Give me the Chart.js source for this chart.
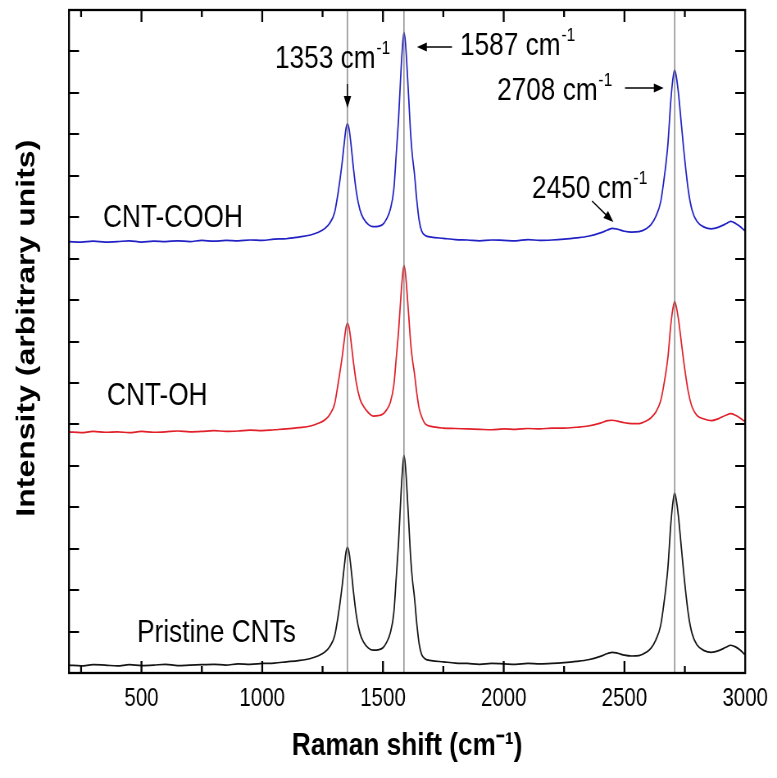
<!DOCTYPE html>
<html>
<head>
<meta charset="utf-8">
<script src="https://cdn.jsdelivr.net/npm/chart.js@4.4.1/dist/chart.umd.min.js"></script>
<style>
  html, body { margin: 0; padding: 0; background: #fff; }
  /* the figure uses narrow lettering: draw wider, show at 777px */
  #ramanChart { display: block; width: 777px !important; height: 778px !important; }
</style>
</head>
<body>
<canvas id="ramanChart" width="948" height="778" style="width:777px;height:778px"></canvas>
<script>
// Raman shift positions (cm-1) shared by the three spectra
var shifts = [200, 250, 300, 350, 400, 450, 500, 550, 600, 650, 700, 750, 800, 850, 900, 950, 1000, 1050, 1100, 1150, 1200,
    1230, 1260, 1280, 1300, 1315, 1330, 1340, 1347, 1353, 1360, 1368, 1378, 1390, 1405, 1420, 1440, 1460, 1480, 1500,
    1515, 1530, 1545, 1555, 1565, 1575, 1582, 1587, 1593, 1600, 1608, 1615, 1622, 1630, 1640, 1650, 1660, 1675, 1700,
    1750, 1800, 1850, 1900, 1950, 2000, 2050, 2100, 2150, 2200, 2250, 2300, 2350, 2400,
    2430, 2450, 2470, 2500, 2530, 2560, 2590, 2610, 2630, 2650, 2665, 2680, 2692, 2702, 2708, 2714, 2724, 2736, 2750,
    2765, 2780, 2800, 2830, 2860, 2890, 2920, 2940, 2960, 2980, 3000];

// stacked intensities (arbitrary units)
var pristine = [0.19, 0.17, 0.20, 0.19, 0.17, 0.20, 0.18, 0.19, 0.21, 0.18, 0.19, 0.20, 0.21, 0.19, 0.22, 0.21, 0.23, 0.24, 0.27, 0.30, 0.35,
    0.41, 0.51, 0.64, 0.90, 1.40, 2.05, 2.58, 2.92, 3.03, 2.90, 2.52, 1.95, 1.38, 0.95, 0.74, 0.60, 0.55, 0.56, 0.61,
    0.74, 0.96, 1.45, 2.30, 3.20, 4.35, 5.00, 5.25, 5.00, 4.35, 3.50, 2.75, 2.25, 1.85, 1.20, 0.70, 0.45, 0.34, 0.30,
    0.27, 0.24, 0.23, 0.21, 0.23, 0.22, 0.21, 0.23, 0.22, 0.23, 0.25, 0.28, 0.32, 0.40,
    0.47, 0.50, 0.48, 0.43, 0.41, 0.42, 0.50, 0.60, 0.80, 1.15, 1.75, 2.55, 3.60, 4.18, 4.34, 4.20, 3.75, 3.00, 2.15,
    1.40, 0.95, 0.68, 0.54, 0.50, 0.54, 0.62, 0.67, 0.63, 0.55, 0.43];

var cntOH = [5.82, 5.80, 5.83, 5.81, 5.82, 5.80, 5.83, 5.81, 5.82, 5.84, 5.82, 5.83, 5.85, 5.83, 5.84, 5.86, 5.85, 5.87, 5.89, 5.92, 5.96,
    6.02, 6.11, 6.24, 6.50, 7.01, 7.58, 8.04, 8.34, 8.44, 8.33, 7.99, 7.49, 6.99, 6.61, 6.43, 6.28, 6.20, 6.21, 6.25,
    6.35, 6.52, 6.95, 7.60, 8.28, 9.15, 9.65, 9.84, 9.65, 9.15, 8.51, 7.94, 7.56, 7.25, 6.76, 6.38, 6.19, 6.01, 5.95,
    5.91, 5.90, 5.89, 5.88, 5.87, 5.89, 5.88, 5.90, 5.89, 5.91, 5.91, 5.93, 5.96, 6.03,
    6.09, 6.10, 6.08, 6.04, 6.02, 6.02, 6.08, 6.16, 6.30, 6.57, 7.02, 7.62, 8.41, 8.84, 8.96, 8.86, 8.52, 7.96, 7.32,
    6.76, 6.42, 6.22, 6.13, 6.09, 6.14, 6.22, 6.26, 6.22, 6.15, 6.06];

var cntCOOH = [10.41, 10.40, 10.42, 10.40, 10.41, 10.43, 10.40, 10.42, 10.41, 10.43, 10.41, 10.44, 10.42, 10.44, 10.43, 10.45, 10.44, 10.47, 10.48, 10.52, 10.57,
    10.63, 10.73, 10.86, 11.12, 11.62, 12.27, 12.80, 13.14, 13.25, 13.12, 12.74, 12.17, 11.60, 11.17, 10.96, 10.82, 10.77, 10.78, 10.83,
    10.96, 11.18, 11.67, 12.52, 13.42, 14.57, 15.22, 15.46, 15.22, 14.57, 13.72, 12.97, 12.47, 12.07, 11.42, 10.92, 10.67, 10.56, 10.52,
    10.49, 10.46, 10.45, 10.43, 10.45, 10.44, 10.43, 10.46, 10.44, 10.45, 10.47, 10.50, 10.54, 10.62,
    10.69, 10.73, 10.71, 10.66, 10.64, 10.65, 10.72, 10.82, 11.02, 11.37, 11.97, 12.77, 13.82, 14.40, 14.55, 14.42, 13.97, 13.22, 12.37,
    11.62, 11.17, 10.90, 10.76, 10.72, 10.76, 10.84, 10.90, 10.85, 10.77, 10.66];

var peakShifts = [1353, 1587, 2708];
var xLabelTicks = [500, 1000, 1500, 2000, 2500, 3000];
var xMarkTicks = [250, 500, 750, 1000, 1250, 1500, 1750, 2000, 2250, 2500, 2750];
var yMarkTicks = [1, 2, 3, 4, 5, 6, 7, 8, 9, 10, 11, 12, 13, 14, 15];

[pristine, cntOH, cntCOOH].forEach(function (s) {
    if (s.length !== shifts.length) throw new Error('length mismatch ' + s.length + ' vs ' + shifts.length);
});

var SX = 948 / 777;   // canvas pixels per screen pixel, horizontally
var FONT = "'Liberation Sans', Arial, sans-serif";

function toPoints(values) {
    return shifts.map(function (x, i) { return { x: x, y: values[i] }; });
}

function spectrum(label, values, color) {
    return {
        label: label,
        data: toPoints(values),
        borderColor: color,
        borderWidth: 1.7,
        pointRadius: 0,
        cubicInterpolationMode: 'monotone',
        fill: false,
        order: 2
    };
}

var datasets = [
    spectrum('Pristine CNTs', pristine, '#151515'),
    spectrum('CNT-OH', cntOH, '#e0202a'),
    spectrum('CNT-COOH', cntCOOH, '#2121c4')
];
peakShifts.forEach(function (p) {
    datasets.push({
        label: p + ' cm-1',
        data: [{ x: p, y: 0 }, { x: p, y: 16 }],
        borderColor: '#7a7a7a',
        borderWidth: 1.3,
        pointRadius: 0,
        order: 1
    });
});

function withSup(ctx, text, x, y) {
    ctx.font = '32px ' + FONT;
    ctx.fillText(text, x, y);
    var w = ctx.measureText(text).width;
    ctx.font = '19px ' + FONT;
    ctx.fillText('-1', x + w + 1, y - 14);
}

function arrow(ctx, x1, y1, x2, y2) {
    var ang = Math.atan2(y2 - y1, x2 - x1);
    var c = Math.cos(ang), s = Math.sin(ang);
    ctx.beginPath();
    ctx.lineWidth = 1.4;
    ctx.moveTo(x1, y1);
    ctx.lineTo(x2 - 9 * c, y2 - 9 * s);
    ctx.stroke();
    ctx.beginPath();
    ctx.moveTo(x2, y2);
    ctx.lineTo(x2 - 12 * c + 4.5 * s, y2 - 12 * s - 4.5 * c);
    ctx.lineTo(x2 - 12 * c - 4.5 * s, y2 - 12 * s + 4.5 * c);
    ctx.closePath();
    ctx.fill();
}

var framePlugin = {
    id: 'frame',
    afterDatasetsDraw: function (chart) {
        var ctx = chart.ctx, a = chart.chartArea;
        var xs = chart.scales.x, ys = chart.scales.y;
        ctx.save();
        ctx.strokeStyle = '#000';
        ctx.fillStyle = '#000';
        ctx.lineWidth = 2.3;
        ctx.strokeRect(a.left, a.top, a.right - a.left, a.bottom - a.top);

        // inward tick marks on all four sides
        ctx.beginPath();
        xMarkTicks.forEach(function (v) {
            var px = xs.getPixelForValue(v);
            var len = v % 500 === 0 ? 12 : 7;
            ctx.moveTo(px, a.bottom); ctx.lineTo(px, a.bottom - len);
            ctx.moveTo(px, a.top); ctx.lineTo(px, a.top + len);
        });
        ctx.stroke();
        ctx.beginPath();
        ctx.lineWidth = 2;
        yMarkTicks.forEach(function (v) {
            var py = Math.round(ys.getPixelForValue(v));
            ctx.moveTo(a.left, py); ctx.lineTo(a.left + 10 * SX, py);
            ctx.moveTo(a.right, py); ctx.lineTo(a.right - 10 * SX, py);
        });
        ctx.stroke();

        // peak labels
        ctx.textBaseline = 'alphabetic';
        ctx.textAlign = 'left';
        var p1 = xs.getPixelForValue(1353), p2 = xs.getPixelForValue(1587);
        var p3 = xs.getPixelForValue(2708), p4 = xs.getPixelForValue(2450);
        withSup(ctx, '1353 cm', 275 * SX, 68);
        arrow(ctx, p1, 84, p1, 108);
        withSup(ctx, '1587 cm', 460 * SX, 55);
        arrow(ctx, 452 * SX, 47, p2 + 13 * SX, 47);
        withSup(ctx, '2708 cm', 497 * SX, 100);
        arrow(ctx, 625 * SX, 88, p3 - 11 * SX, 88);
        withSup(ctx, '2450 cm', 532 * SX, 198);
        arrow(ctx, 592 * SX, 201, p4 + 1 * SX, 222);

        // sample names
        ctx.font = '32px ' + FONT;
        ctx.fillText('CNT-COOH', 103 * SX, 227);
        ctx.fillText('CNT-OH', 107 * SX, 405);
        ctx.fillText('Pristine CNTs', 137 * SX, 642);
        ctx.restore();
    }
};

var ctx = document.getElementById('ramanChart').getContext('2d');
var chart = new Chart(ctx, {
    type: 'line',
    data: { datasets: datasets },
    options: {
        responsive: false,
        animation: false,
        devicePixelRatio: 1,
        layout: { padding: { top: 10, right: 948 - 748 * SX, left: 0, bottom: 0 } },
        plugins: {
            legend: { display: false },
            tooltip: { enabled: false }
        },
        scales: {
            x: {
                type: 'linear',
                min: 200,
                max: 3000,
                grid: { display: false, drawTicks: false },
                border: { display: false },
                afterBuildTicks: function (s) {
                    s.ticks = xLabelTicks.map(function (v) { return { value: v }; });
                },
                afterFit: function (s) { s.height = 105; },
                ticks: {
                    color: '#000',
                    padding: 11,
                    maxRotation: 0,
                    font: { family: FONT, size: 25 },
                    callback: function (v) { return String(v); }
                },
                title: {
                    display: true,
                    text: 'Raman shift (cm\u207B\u00B9)',
                    color: '#000',
                    padding: { top: 0, bottom: 13 },
                    font: { family: FONT, size: 32, weight: 'bold' }
                }
            },
            y: {
                type: 'linear',
                min: 0,
                max: 16,
                grid: { display: false, drawTicks: false },
                border: { display: false },
                ticks: { display: false },
                afterFit: function (s) { s.width = 69 * SX; },
                title: {
                    display: true,
                    text: '   Intensity (arbitrary units)',
                    color: '#000',
                    padding: { top: 14, bottom: 0 },
                    font: { family: FONT, size: 32, weight: 'bold' }
                }
            }
        }
    },
    plugins: [framePlugin]
});
</script>
</body>
</html>
